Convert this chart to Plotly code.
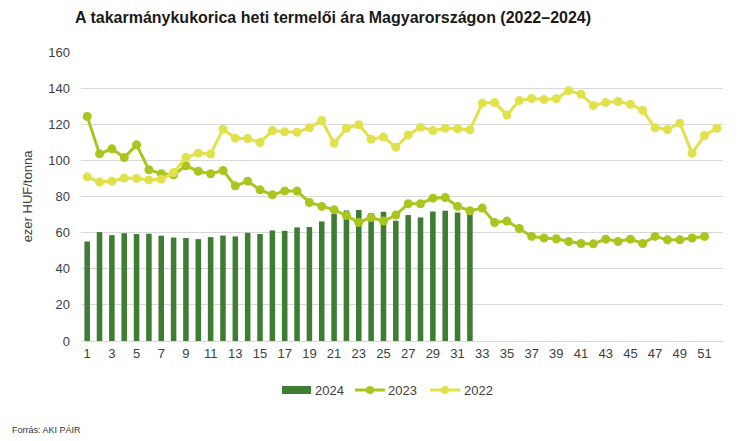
import plotly.graph_objects as go

weeks = list(range(1, 53))
tick_weeks = list(range(1, 52, 2))

y2024 = [55.1, 60.3, 58.6, 59.7, 59.2, 59.4, 58.3, 57.3, 57.0, 56.4,
         57.5, 58.4, 57.9, 59.9, 59.2, 61.2, 61.0, 62.9, 63.1, 66.2,
         70.4, 72.3, 72.5, 70.8, 71.5, 66.6, 69.7, 68.4, 71.7, 72.1,
         71.1, 70.8]

y2023 = [124.3, 103.6, 106.4, 101.6, 108.6, 94.8, 92.6, 92.0, 97.0, 94.0,
         92.6, 94.4, 85.9, 88.5, 83.7, 80.9, 83.1, 83.0, 76.7, 74.5,
         72.6, 69.5, 65.6, 68.4, 66.4, 69.7, 76.0, 76.0, 79.1, 79.4,
         74.5, 72.1, 73.6, 65.6, 66.4, 62.3, 57.9, 57.0, 56.6, 55.1,
         54.0, 53.8, 56.4, 55.1, 56.4, 54.0, 57.9, 56.0, 56.0, 57.0,
         57.9]

y2022 = [90.9, 88.0, 88.5, 90.2, 90.0, 89.2, 89.6, 93.3, 101.6, 104.0,
         103.5, 117.3, 112.3, 112.1, 109.9, 116.5, 115.8, 115.6, 118.0, 122.1,
         109.5, 117.8, 119.7, 111.7, 112.9, 107.3, 114.1, 118.4, 116.5, 117.8,
         117.5, 116.9, 131.7, 132.0, 125.1, 133.1, 134.2, 133.7, 134.1, 138.6,
         136.6, 130.4, 132.0, 132.6, 131.1, 127.6, 118.0, 117.1, 120.6, 104.0,
         113.8, 117.8]

series_names = ["2024", "2023", "2022"]

C2024 = "#3f7d34"
C2023 = "#a9c61f"
C2022 = "#e1e14c"
FONT = "Liberation Sans, Arial, sans-serif"

L, R, T, B = 81, 23, 52, 100
W, H = 746, 441
PW, PH = W - L - R, H - T - B


def px(x):
    return (x - L) / PW


def py(y):
    return (H - B - y) / PH


fig = go.Figure()
fig.add_trace(go.Bar(x=weeks[:len(y2024)], y=y2024, name=series_names[0],
                     marker=dict(color=C2024, line=dict(width=0)), width=0.45))
fig.add_trace(go.Scatter(x=weeks[:len(y2023)], y=y2023, name=series_names[1], mode="lines+markers",
                         line=dict(color=C2023, width=3), marker=dict(color=C2023, size=9)))
fig.add_trace(go.Scatter(x=weeks[:len(y2022)], y=y2022, name=series_names[2], mode="lines+markers",
                         line=dict(color=C2022, width=3), marker=dict(color=C2022, size=9)))

fig.update_layout(
    width=W, height=H,
    margin=dict(l=L, r=R, t=T, b=B),
    paper_bgcolor="white", plot_bgcolor="white",
    font=dict(family=FONT, size=13, color="#404040"),
    title=dict(text="<b>A takarmánykukorica heti termelői ára Magyarországon (2022–2024)</b>",
               x=75/W, xanchor="left", xref="container",
               y=1-17/H, yanchor="middle", yref="container",
               font=dict(family=FONT, size=16, color="#1a1a1a")),
    showlegend=False,
)
fig.update_xaxes(range=[0.5, 52.5], tickmode="array", tickvals=tick_weeks,
                 ticktext=[str(w) for w in tick_weeks], showgrid=False,
                 showline=True, linecolor="#d9d9d9", linewidth=1, ticks="",
                 tickfont=dict(size=13, color="#404040"), zeroline=False)
fig.update_yaxes(range=[0, 160], dtick=20, showgrid=True, gridcolor="#d9d9d9",
                 gridwidth=1, zeroline=False, showline=False, ticks="",
                 ticklabelstandoff=10,
                 tickfont=dict(size=13, color="#404040"),
                 title=dict(text="ezer HUF/tonna", font=dict(size=13, color="#404040"), standoff=12))

# manual legend (swatches + labels)
ly = 390
fig.add_shape(type="rect", xref="paper", yref="paper",
              x0=px(282), x1=px(311), y0=py(ly + 4), y1=py(ly - 4),
              fillcolor=C2024, line=dict(width=0))
for x0, col in [(355, C2023), (430, C2022)]:
    fig.add_shape(type="line", xref="paper", yref="paper",
                  x0=px(x0), x1=px(x0 + 30), y0=py(ly), y1=py(ly),
                  line=dict(color=col, width=3))
    fig.add_shape(type="circle", xref="paper", yref="paper",
                  x0=px(x0 + 11), x1=px(x0 + 19), y0=py(ly + 4), y1=py(ly - 4),
                  fillcolor=col, line=dict(width=0))
for xt, name in [(313, series_names[0]), (386, series_names[1]), (462, series_names[2])]:
    fig.add_annotation(text=name, xref="paper", yref="paper", x=px(xt), y=py(ly),
                       xanchor="left", yanchor="middle", showarrow=False,
                       font=dict(size=13, color="#404040"))

fig.add_annotation(text="Forrás: AKI PÁIR", xref="paper", yref="paper",
                   x=px(10), y=py(430), xanchor="left", yanchor="middle",
                   showarrow=False, font=dict(size=9, color="#333333"))

fig.write_html("out.html")
